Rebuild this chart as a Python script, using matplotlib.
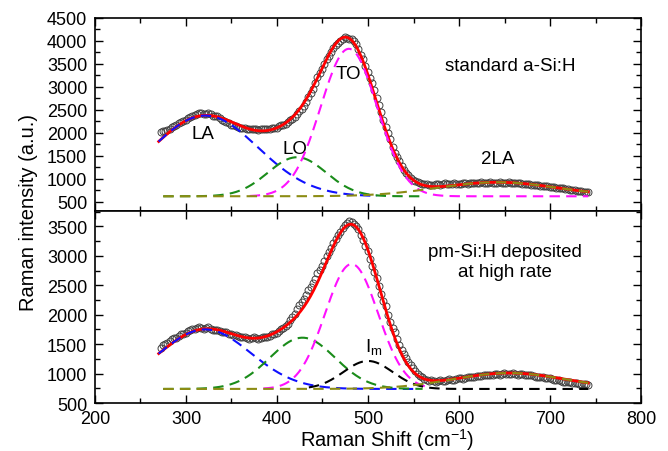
import numpy as np
import matplotlib.pyplot as plt
from matplotlib.ticker import MultipleLocator

plt.rcParams['font.family'] = ['Liberation Sans', 'DejaVu Sans']
plt.rcParams['mathtext.fontset'] = 'custom'
plt.rcParams['mathtext.rm'] = 'Liberation Sans'
plt.rcParams['mathtext.it'] = 'Liberation Sans:italic'

# measured spectra, two interleaved sets of readings (272, 277, ... and 274.5, 279.5, ...)
shift = np.arange(272, 743, 5)
shift_half = np.arange(274.5, 742, 5)

top_counts = [2010, 2040, 2090, 2150, 2210, 2265, 2320, 2370, 2410, 2430,
              2420, 2400, 2370, 2320, 2260, 2210, 2170, 2130, 2110, 2090,
              2080, 2075, 2080, 2085, 2095, 2110, 2140, 2180, 2240, 2310,
              2400, 2520, 2680, 2870, 3080, 3300, 3500, 3680, 3840, 3960,
              4040, 4070, 4040, 3940, 3700, 3460, 3200, 2930, 2600, 2290,
              1990, 1700, 1470, 1280, 1120, 1020, 950, 905, 885, 875,
              875, 880, 885, 890, 890, 895, 895, 900, 905, 905,
              910, 910, 915, 915, 915, 915, 910, 910, 905, 900,
              890, 880, 870, 860, 850, 840, 825, 810, 795, 780,
              765, 750, 735, 720, 705]
top_counts_half = [2035, 2060, 2125, 2170, 2245, 2285, 2355, 2380, 2440, 2410,
                   2425, 2375, 2360, 2280, 2245, 2180, 2160, 2110, 2105, 2075,
                   2090, 2065, 2095, 2080, 2110, 2115, 2165, 2200, 2280, 2350,
                   2465, 2590, 2790, 2960, 3210, 3390, 3610, 3750, 3920, 3990,
                   4080, 4050, 4000, 3830, 3600, 3320, 3080, 2760, 2460, 2130,
                   1860, 1570, 1380, 1190, 1080, 975, 935, 890, 890, 865,
                   890, 870, 900, 880, 905, 885, 910, 895, 915, 900,
                   920, 905, 925, 905, 925, 905, 920, 900, 910, 890,
                   890, 870, 870, 850, 850, 825, 822, 798, 792, 768,
                   762, 738, 732, 708]

bot_counts = [1440, 1500, 1550, 1600, 1640, 1680, 1720, 1750, 1770, 1780,
              1775, 1760, 1740, 1720, 1700, 1680, 1660, 1640, 1625, 1610,
              1600, 1600, 1610, 1625, 1645, 1680, 1720, 1770, 1850, 1960,
              2090, 2210, 2340, 2470, 2610, 2760, 2910, 3060, 3210, 3350,
              3470, 3560, 3570, 3500, 3360, 3170, 2950, 2720, 2480, 2240,
              2000, 1780, 1580, 1400, 1260, 1140, 1040, 960, 910, 880,
              870, 875, 880, 890, 900, 910, 920, 930, 940, 950,
              960, 970, 980, 985, 990, 995, 1000, 1000, 995, 990,
              985, 975, 960, 950, 935, 920, 905, 890, 875, 860,
              850, 840, 830, 820, 810]
bot_counts_half = [1480, 1515, 1585, 1610, 1670, 1695, 1745, 1755, 1790, 1765,
                   1785, 1745, 1740, 1700, 1700, 1665, 1660, 1625, 1625, 1595,
                   1615, 1595, 1630, 1625, 1670, 1690, 1755, 1800, 1910, 2020,
                   2160, 2265, 2415, 2530, 2700, 2820, 2995, 3130, 3290, 3400,
                   3530, 3590, 3545, 3450, 3260, 3080, 2830, 2620, 2350, 2140,
                   1880, 1700, 1480, 1340, 1190, 1095, 990, 945, 885, 885,
                   860, 890, 875, 905, 895, 925, 915, 945, 935, 965,
                   955, 985, 970, 1000, 980, 1010, 990, 1010, 980, 995,
                   970, 975, 945, 950, 920, 920, 890, 890, 860, 862,
                   838, 842, 818, 822]

# fitted gaussian bands: baseline, centre, width, height, drawn range
top_base = 620
top_center = [321, 422, 479, 642]
top_width = [58, 32, 31, 66]
top_height = [1756, 850, 3210, 305]
top_span = [(270, 510), (275, 560), (370, 742), (275, 742)]
top_colors = ['#1010ff', '#1a8c1a', '#ff10ff', '#8c8c14']

bot_base = 740
bot_center = [321, 428, 482, 500, 655]
bot_width = [50, 36, 29, 27, 62]
bot_height = [1010, 870, 2120, 475, 270]
bot_span = [(270, 555), (275, 560), (385, 565), (435, 742), (275, 742)]
bot_colors = ['#1010ff', '#1a8c1a', '#ff10ff', '#000000', '#8c8c14']


def band(x, c, w, h):
    return h * np.exp(-(x - c) ** 2 / (2 * w ** 2))


def draw_panel(ax, counts, counts_half, base, centers, widths, heights, spans, colors):
    for xs, ys in ((shift, counts), (shift_half, counts_half)):
        ax.plot(xs, ys, 'o', ms=5, mfc='none', mec='#404040', mew=0.7, zorder=2)
    xf = np.linspace(270, 742, 400)
    fit = base + sum(band(xf, c, w, h) for c, w, h in zip(centers, widths, heights))
    ax.plot(xf, fit, color='red', lw=2, zorder=3)
    for c, w, h, (a, b), col in zip(centers, widths, heights, spans, colors):
        xs = np.linspace(a, b, 200)
        ax.plot(xs, base + band(xs, c, w, h), color=col, lw=1.5,
                dashes=(5, 3), zorder=4)


fig = plt.figure(figsize=(6.68, 4.52), dpi=100)
ax1 = fig.add_axes([0.1422, 0.531, 0.8174, 0.427])
ax2 = fig.add_axes([0.1422, 0.106, 0.8174, 0.425], sharex=ax1)

draw_panel(ax1, top_counts, top_counts_half, top_base, top_center, top_width,
           top_height, top_span, top_colors)
draw_panel(ax2, bot_counts, bot_counts_half, bot_base, bot_center, bot_width,
           bot_height, bot_span, bot_colors)

ax1.set_xlim(200, 800)
ax1.set_ylim(300, 4500)
ax2.set_ylim(500, 3760)
ax1.set_yticks(np.arange(500, 4501, 500))
ax2.set_yticks(np.arange(500, 3501, 500))

for ax in (ax1, ax2):
    ax.xaxis.set_major_locator(MultipleLocator(100))
    ax.xaxis.set_minor_locator(MultipleLocator(50))
    ax.yaxis.set_minor_locator(MultipleLocator(250))
    ax.tick_params(which='both', direction='in', top=True, right=True,
                   labelsize=13, width=1.0)
    ax.tick_params(which='major', length=6)
    ax.tick_params(which='minor', length=3.5)
    ax.tick_params(axis='y', pad=5.5)
    ax.tick_params(axis='x', pad=5)
    for s in ax.spines.values():
        s.set_linewidth(1.2)
ax1.tick_params(labelbottom=False)

ax1.text(319, 1980, 'LA', fontsize=13.5, ha='center', va='center')
ax1.text(420, 1650, 'LO', fontsize=13.5, ha='center', va='center')
ax1.text(478, 3290, 'TO', fontsize=13.5, ha='center', va='center')
ax1.text(643, 1440, '2LA', fontsize=13.5, ha='center', va='center')
ax1.text(656, 3460, 'standard a-Si:H', fontsize=13.5, ha='center', va='center')

ax2.text(651, 2900, 'pm-Si:H deposited\nat high rate', fontsize=13.5,
         ha='center', va='center', multialignment='center', linespacing=1.25)
ax2.text(506, 1470, r'I$_{\rm m}$', fontsize=13.5, ha='center', va='center')

fig.text(0.042, 0.529, 'Raman intensity (a.u.)', rotation=90, fontsize=14.5,
         ha='center', va='center')
fig.text(0.579, 0.027, r'Raman Shift (cm$^{-1}$)', fontsize=14.5,
         ha='center', va='center')

fig.savefig('out.png', dpi=100)
